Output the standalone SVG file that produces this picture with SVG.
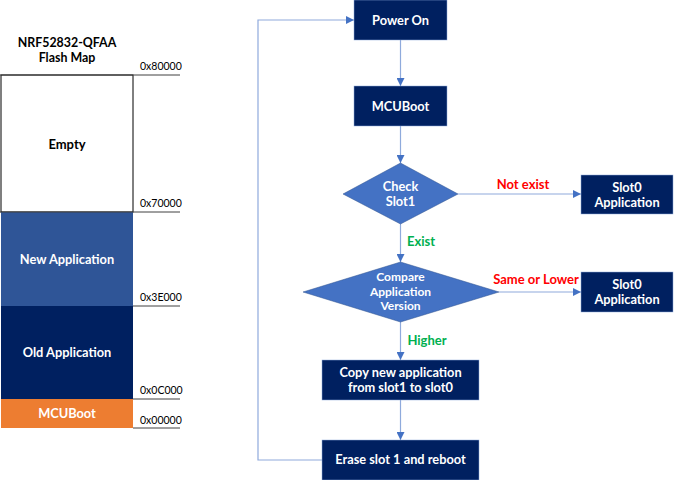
<svg xmlns="http://www.w3.org/2000/svg" width="674" height="480" viewBox="0 0 674 480">
<defs>
<marker id="ah" viewBox="0 0 10 10" refX="10" refY="5" markerWidth="8" markerHeight="8" markerUnits="userSpaceOnUse" orient="auto">
<path d="M0,0 L10,5 L0,10 z" fill="#4472C4"/>
</marker>
<style>
text{font-family:Lato,"Noto Sans","Noto Sans CJK KR",sans-serif;font-weight:bold;text-anchor:middle}
.w{fill:#fff;font-size:12.8px}
.k{fill:#000;font-size:13px}
.t{fill:#000;font-size:12.4px}
.c{fill:#fff;font-size:12px}
.addr{fill:#000;font-size:10.5px;text-anchor:start;font-weight:normal}
.box{fill:#002060;stroke:#8FAADC;stroke-width:0.5}
.dia{fill:#4472C4;stroke:#2F528F;stroke-width:0.5}
.conn{fill:none;stroke:#8FAADC;stroke-width:1.2}
.sep{stroke:#404040;stroke-width:1}
.lbl{font-size:13px}
</style>
</defs>
<rect width="674" height="480" fill="#fff"/>

<g id="flashmap">
<text class="t" x="67" y="47">NRF52832-QFAA</text>
<text class="t" x="67" y="62">Flash Map</text>
<rect x="1" y="75" width="132" height="137" fill="#fff" stroke="#000" stroke-width="1"/>
<text class="k" x="67" y="149">Empty</text>
<rect x="1" y="212" width="132" height="94" fill="#2F5597"/>
<text class="w" x="67" y="264">New Application</text>
<rect x="1" y="306" width="132" height="93" fill="#002060"/>
<text class="w" x="67" y="357">Old Application</text>
<rect x="1" y="399" width="132" height="29" fill="#ED7D31"/>
<text class="w" x="67" y="418">MCUBoot</text>
<line class="sep" x1="0" y1="75" x2="180" y2="75"/>
<line class="sep" x1="0" y1="212" x2="180" y2="212"/>
<line class="sep" x1="133" y1="306" x2="180" y2="306"/>
<line class="sep" x1="133" y1="399" x2="180" y2="399"/>
<line class="sep" x1="133" y1="428" x2="180" y2="428"/>
<text class="addr" x="140" y="70">0x80000</text>
<text class="addr" x="140" y="207">0x70000</text>
<text class="addr" x="140" y="301">0x3E000</text>
<text class="addr" x="140" y="394">0x0C000</text>
<text class="addr" x="140" y="424">0x00000</text>
</g>

<g id="connectors">
<line class="conn" x1="400.5" y1="40" x2="400.5" y2="86" marker-end="url(#ah)"/>
<line class="conn" x1="400.5" y1="126" x2="400.5" y2="163" marker-end="url(#ah)"/>
<line class="conn" x1="458" y1="194" x2="581" y2="194" marker-end="url(#ah)"/>
<line class="conn" x1="400.5" y1="224" x2="400.5" y2="262" marker-end="url(#ah)"/>
<line class="conn" x1="499" y1="292" x2="581" y2="292" marker-end="url(#ah)"/>
<line class="conn" x1="400.5" y1="322" x2="400.5" y2="360" marker-end="url(#ah)"/>
<line class="conn" x1="400.5" y1="400" x2="400.5" y2="440" marker-end="url(#ah)"/>
<polyline class="conn" points="322,460 258,460 258,20 354,20" marker-end="url(#ah)"/>
<text class="lbl" x="523" y="189" fill="#FF0000">Not exist</text>
<text class="lbl" x="421" y="246" fill="#00B050">Exist</text>
<text class="lbl" x="536" y="284" fill="#FF0000">Same or Lower</text>
<text class="lbl" x="427" y="345" fill="#00B050">Higher</text>
</g>

<g id="power-on">
<rect class="box" x="354" y="0" width="93" height="40"/>
<text class="w" x="400.5" y="25">Power On</text>
</g>
<g id="mcuboot">
<rect class="box" x="354" y="86" width="93" height="40"/>
<text class="w" x="400.5" y="111">MCUBoot</text>
</g>
<g id="check-slot1">
<polygon class="dia" points="400.5,163 458,194 400.5,224 343,194"/>
<text class="w" x="400.5" y="191">Check</text>
<text class="w" x="400.5" y="206">Slot1</text>
</g>
<g id="slot0-app-1">
<rect class="box" x="581" y="175" width="92" height="39"/>
<text class="w" x="627" y="192">Slot0</text>
<text class="w" x="627" y="207">Application</text>
</g>
<g id="compare-version">
<polygon class="dia" points="400.5,262 499,292 400.5,322 303,292"/>
<text class="c" x="400.5" y="281">Compare</text>
<text class="c" x="400.5" y="295.5">Application</text>
<text class="c" x="400.5" y="310">Version</text>
</g>
<g id="slot0-app-2">
<rect class="box" x="581" y="272" width="92" height="40"/>
<text class="w" x="627" y="289">Slot0</text>
<text class="w" x="627" y="304">Application</text>
</g>
<g id="copy">
<rect class="box" x="322" y="360" width="157" height="40"/>
<text class="w" x="400.5" y="377">Copy new application</text>
<text class="w" x="400.5" y="392">from slot1 to slot0</text>
</g>
<g id="erase">
<rect class="box" x="322" y="440" width="157" height="40"/>
<text class="w" x="400.5" y="464">Erase slot 1 and reboot</text>
</g>
</svg>
